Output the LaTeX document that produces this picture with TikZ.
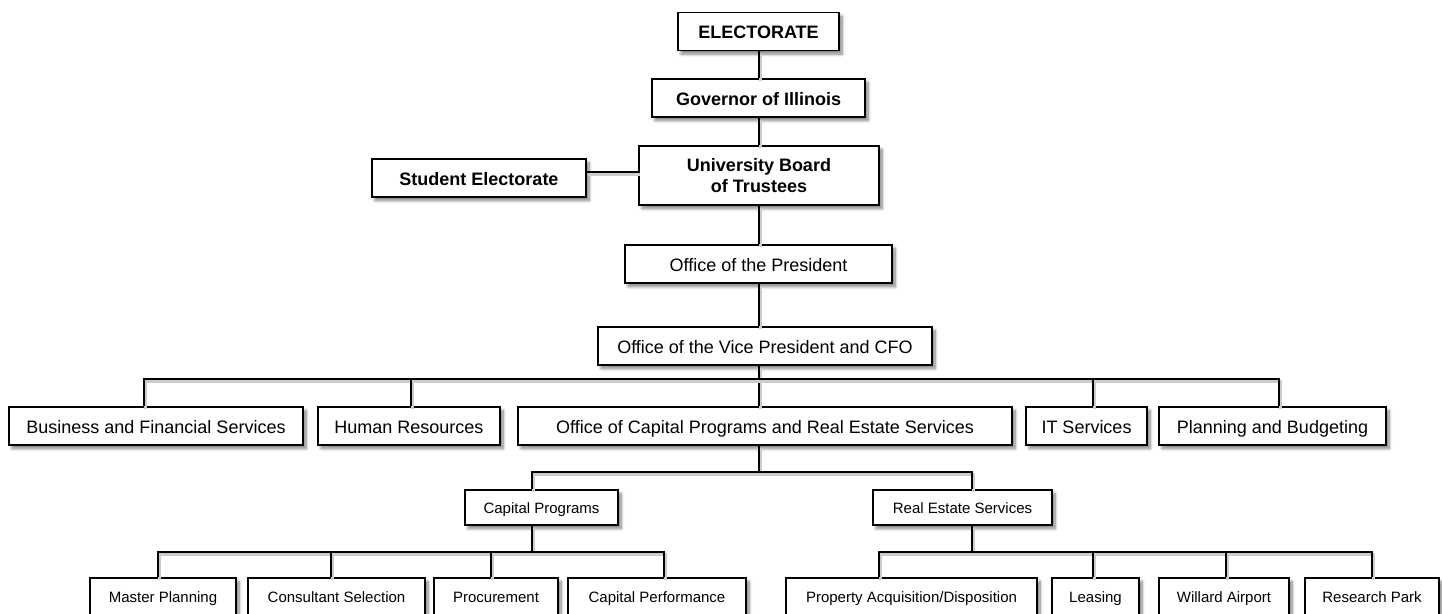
\documentclass[tikz,border=0pt]{standalone}
\usepackage{fontspec}
\setmainfont{Liberation Sans}
\usetikzlibrary{shadows.blur}

\tikzset{
  x=1pt, y=-1pt,
  box/.style={draw=black, line width=1.4pt, fill=white, inner sep=0pt,
    minimum height=38pt, align=center,
    text height=14.5pt, text depth=0pt,
    font=\fontsize{18}{21}\selectfont,
    blur shadow={shadow xshift=3pt, shadow yshift=-3.5pt,
      shadow blur radius=3pt, shadow blur steps=8, shadow opacity=50}},
  topbox/.style={box, font=\fontsize{18}{21}\selectfont\bfseries},
  unitbox/.style={box, minimum height=35pt, text height=11pt, text depth=0pt,
    font=\fontsize{15}{18}\selectfont},
  leafbox/.style={unitbox, minimum height=37pt},
  link/.style={draw=black, line width=1.3pt,
    preaction={draw=black!20, line width=3pt,
      transform canvas={shift={(1.5pt,-2.5pt)}}}},
}

\begin{document}
\begin{tikzpicture}
\useasboundingbox (0,0) rectangle (1442,613);

% governance chain
\node[topbox, minimum width=161pt] (elec) at (758.5,31.5) {ELECTORATE};
\node[topbox, minimum width=213pt] (gov) at (758.5,98) {Governor of Illinois};
\node[topbox, minimum width=240pt, minimum height=59pt,
      text height={}, text depth={}] (board) at (759,175.5)
  {University Board\\of Trustees};
\node[topbox, minimum width=214pt] (stu) at (479,178) {Student Electorate};

% executive offices
\node[box, minimum width=267pt] (pres) at (758.5,264) {Office of the President};
\node[box, minimum width=334pt] (cfo) at (765,346) {Office of the Vice President and CFO};

% units reporting to the CFO
\node[box, minimum width=294pt] (bfs) at (156,426) {Business and Financial Services};
\node[box, minimum width=182pt] (hr) at (409,426) {Human Resources};
\node[box, minimum width=494pt] (ocp) at (765,426) {Office of Capital Programs and Real Estate Services};
\node[box, minimum width=121pt] (it) at (1086.5,426) {IT Services};
\node[box, minimum width=227pt] (pb) at (1272.5,426) {Planning and Budgeting};

% capital programs and real estate
\node[unitbox, minimum width=153pt] (cp) at (541.5,507.5) {Capital Programs};
\node[unitbox, minimum width=179pt] (res) at (962.5,507.5) {Real Estate Services};

\node[leafbox, minimum width=146pt] (mp) at (163,596.5) {Master Planning};
\node[leafbox, minimum width=177pt] (cs) at (336.5,596.5) {Consultant Selection};
\node[leafbox, minimum width=124pt] (proc) at (496,596.5) {Procurement};
\node[leafbox, minimum width=178pt] (cperf) at (657,596.5) {Capital Performance};
\node[leafbox, minimum width=251pt] (pad) at (911.5,596.5) {Property Acquisition/Disposition};
\node[leafbox, minimum width=87pt] (leas) at (1095.5,596.5) {Leasing};
\node[leafbox, minimum width=130pt] (will) at (1224,596.5) {Willard Airport};
\node[leafbox, minimum width=134pt] (rp) at (1372,596.5) {Research Park};

% connector junctions
\coordinate (trunk) at (759,0);
\coordinate (sy) at (0,172);
\coordinate (d-bfs) at (144,379);
\coordinate (d-hr) at (411,379);
\coordinate (d-ocp) at (759,379);
\coordinate (d-it) at (1093,379);
\coordinate (d-pb) at (1279,379);
\coordinate (d-cp) at (532,472);
\coordinate (d-res) at (972,472);
\coordinate (d-mp) at (158,552);
\coordinate (d-cs) at (331,552);
\coordinate (d-proc) at (491,552);
\coordinate (d-cperf) at (664,552);
\coordinate (d-pad) at (879,552);
\coordinate (d-leas) at (1093,552);
\coordinate (d-will) at (1226,552);
\coordinate (d-rp) at (1372,552);

% connectors
\draw[link] (elec.south -| trunk) -- (gov.north -| trunk);
\draw[link] (gov.south -| trunk) -- (board.north -| trunk);
\draw[link] (stu.east |- sy) -- (board.west |- sy);
\draw[link] (board.south -| trunk) -- (pres.north -| trunk);
\draw[link] (pres.south -| trunk) -- (cfo.north -| trunk);
\draw[link] (cfo.south -| trunk) -- (ocp.north -| trunk);

\draw[link] (d-bfs |- bfs.north) -- (d-bfs) -- (d-pb) -- (d-pb |- pb.north);
\draw[link] (d-hr) -- (d-hr |- hr.north);
\draw[link] (d-it) -- (d-it |- it.north);

\draw[link] (ocp.south -| trunk) -- (trunk |- d-cp);
\draw[link] (d-cp |- cp.north) -- (d-cp) -- (d-res) -- (d-res |- res.north);

\draw[link] (cp.south -| d-cp) -- (d-cp |- d-mp);
\draw[link] (d-mp |- mp.north) -- (d-mp) -- (d-cperf) -- (d-cperf |- cperf.north);
\draw[link] (d-cs) -- (d-cs |- cs.north);
\draw[link] (d-proc) -- (d-proc |- proc.north);

\draw[link] (res.south -| d-res) -- (d-res |- d-pad);
\draw[link] (d-pad |- pad.north) -- (d-pad) -- (d-rp) -- (d-rp |- rp.north);
\draw[link] (d-leas) -- (d-leas |- leas.north);
\draw[link] (d-will) -- (d-will |- will.north);
\end{tikzpicture}
\end{document}
